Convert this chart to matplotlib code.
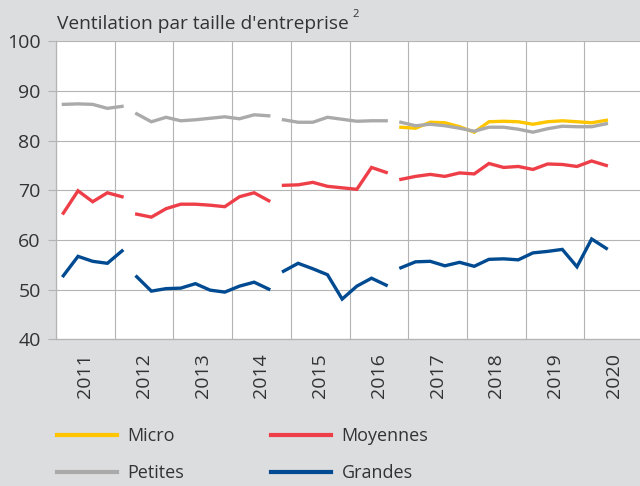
import matplotlib
matplotlib.use("Agg")
import matplotlib.pyplot as plt
import numpy as np

plt.rcParams['font.family'] = ['Open Sans', 'DejaVu Sans']

# quarterly values, 2011Q1 .. 2020Q2
years = ['2011', '2012', '2013', '2014', '2015', '2016', '2017', '2018', '2019', '2020']
segments = [(0, 5), (5, 15), (15, 23), (23, 38)]  # series are broken between these blocks

micro = [np.nan] * 23 + [82.7, 82.5, 83.7, 83.6, 82.8, 81.7, 83.8, 83.9, 83.8, 83.3,
                         83.8, 84.0, 83.8, 83.6, 84.1]
petites = [87.3, 87.4, 87.3, 86.5, 86.9,
           85.4, 83.8, 84.7, 84.0, 84.2, 84.5, 84.8, 84.4, 85.2, 85.0,
           84.2, 83.7, 83.7, 84.7, 84.3, 83.9, 84.0, 84.0,
           83.7, 83.0, 83.3, 83.0, 82.5, 81.9, 82.7, 82.7, 82.3, 81.7,
           82.4, 82.9, 82.8, 82.8, 83.4]
moyennes = [65.4, 69.9, 67.7, 69.5, 68.7,
            65.2, 64.6, 66.3, 67.2, 67.2, 67.0, 66.7, 68.7, 69.5, 67.9,
            71.0, 71.1, 71.6, 70.8, 70.5, 70.2, 74.6, 73.6,
            72.2, 72.8, 73.2, 72.8, 73.5, 73.3, 75.4, 74.6, 74.8, 74.2,
            75.3, 75.2, 74.8, 75.9, 75.0]
grandes = [52.8, 56.7, 55.7, 55.3, 57.8,
           52.6, 49.7, 50.2, 50.3, 51.2, 49.9, 49.5, 50.7, 51.5, 50.1,
           53.7, 55.3, 54.2, 53.0, 48.1, 50.7, 52.3, 50.9,
           54.4, 55.6, 55.7, 54.8, 55.5, 54.7, 56.1, 56.2, 56.0, 57.4,
           57.7, 58.1, 54.6, 60.2, 58.3]

series = [
    ('Micro', micro, '#ffc600'),
    ('Petites', petites, '#aaaaaa'),
    ('Moyennes', moyennes, '#ee3e48'),
    ('Grandes', grandes, '#004a91'),
]

bg = '#dcdddf'
grid_c = '#b4b4b4'
txt_c = '#333333'

fig = plt.figure(figsize=(6.4, 4.86), dpi=100, facecolor=bg)
ax = fig.add_axes([56 / 640, 1 - 339.3 / 486, 587 / 640, (339.3 - 41.3) / 486])
ax.set_facecolor('white')

x = np.arange(len(petites)) + 0.5
for name, vals, col in series:
    vals = np.array(vals)
    first = True
    for a, b in segments:
        if np.all(np.isnan(vals[a:b])):
            continue
        ax.plot(x[a:b], vals[a:b], color=col, lw=2.4, solid_joinstyle='miter',
                label=name if first else None)
        first = False

ax.set_xlim(0, 40)
ax.set_ylim(40, 100)
ax.set_yticks(range(40, 101, 10))
ax.set_xticks(np.arange(0, 41, 4))
ax.set_xticklabels([])
ax.set_xticks(np.arange(2, 40, 4), minor=True)
ax.set_xticklabels(years, minor=True, rotation=90, fontsize=14, color=txt_c)
ax.tick_params(axis='x', which='both', length=0)
ax.tick_params(axis='x', which='minor', pad=10)
ax.tick_params(axis='y', length=6, width=0.8, color=grid_c, labelsize=14,
               labelcolor=txt_c, pad=5)
ax.grid(True, which='major', color=grid_c, lw=0.8)
ax.set_axisbelow(True)
for s in ['top', 'right']:
    ax.spines[s].set_visible(False)
for s in ['left', 'bottom']:
    ax.spines[s].set_color(grid_c)
    ax.spines[s].set_linewidth(0.9)

title = fig.text(57 / 640, 1 - 29 / 486, "Ventilation par taille d'entreprise",
                 fontsize=13.8, color=txt_c, ha='left', va='baseline')
# small superscript placed just after the title
fig.canvas.draw()
bb = title.get_window_extent()
fig.text((bb.x1 + 4) / 640, 1 - 17 / 486, "2", fontsize=8, color=txt_c,
         ha='left', va='baseline')

leg = fig.legend(loc='upper left', bbox_to_anchor=(41 / 640, 1 - 411 / 486), ncol=2,
                 frameon=False, fontsize=13, handlelength=3.3, handletextpad=0.6,
                 columnspacing=4.8, labelspacing=1.05, labelcolor=txt_c)
for h in leg.get_lines():
    h.set_linewidth(3)

fig.savefig('out.png', dpi=100, facecolor=bg)
